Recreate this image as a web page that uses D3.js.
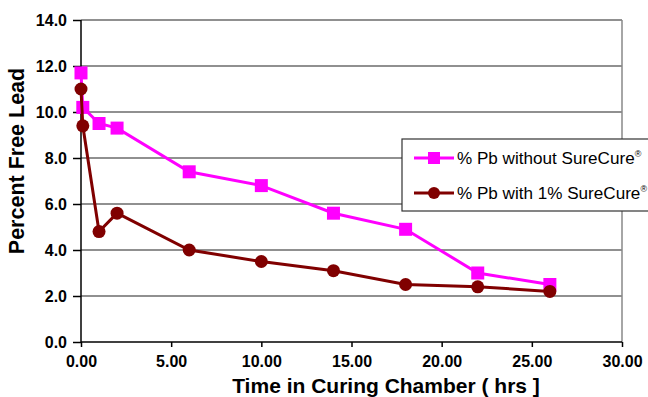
<!DOCTYPE html>
<html>
<head>
<meta charset="utf-8">
<script src="https://cdn.jsdelivr.net/npm/d3@7"></script>
<style>
  body { margin: 0; background: #fff; }
  svg { display: block; font-family: 'Liberation Sans', Arial, sans-serif; }
  .tick text { font-weight: bold; font-size: 16px; fill: #000; }
</style>
</head>
<body>
<div id="plot"></div>
<script>
// time in curing chamber (hrs)
var hours = [0, 0.1, 1, 2, 6, 10, 14, 18, 22, 26];
// % free lead, without SureCure
var pbWithout = [11.7, 10.2, 9.5, 9.3, 7.4, 6.8, 5.6, 4.9, 3.0, 2.5];
// % free lead, with 1% SureCure
var pbWith = [11.0, 9.4, 4.8, 5.6, 4.0, 3.5, 3.1, 2.5, 2.4, 2.2];

var xTicks = [0, 5, 10, 15, 20, 25, 30];
var yTicks = [0, 2, 4, 6, 8, 10, 12, 14];

var seriesNames = ['% Pb without SureCure', '% Pb with 1% SureCure'];

var W = 648, H = 397;
var m = { top: 20, right: 26, bottom: 55, left: 81 };
var w = W - m.left - m.right;
var h = H - m.top - m.bottom;

var svg = d3.select('#plot').append('svg')
  .attr('width', W)
  .attr('height', H);

var g = svg.append('g')
  .attr('transform', 'translate(' + m.left + ',' + m.top + ')');

var x = d3.scaleLinear().domain([0, 30]).range([0, w]);
var y = d3.scaleLinear().domain([0, 14]).range([h, 0]);

// gridlines
g.append('g').selectAll('line.grid')
  .data(yTicks.filter(function(d) { return d > 0; }))
  .enter().append('line')
    .attr('x1', 0).attr('x2', w)
    .attr('y1', function(d) { return y(d); })
    .attr('y2', function(d) { return y(d); })
    .attr('stroke', '#222')
    .attr('stroke-width', 1.2);

// right border of plot area
g.append('line')
  .attr('x1', w).attr('x2', w)
  .attr('y1', 0).attr('y2', h)
  .attr('stroke', '#888')
  .attr('stroke-width', 1.5);

var yaxis = d3.axisLeft(y).tickValues(yTicks).tickFormat(d3.format('.1f')).tickSize(8).tickPadding(6);
var xaxis = d3.axisBottom(x).tickValues(xTicks).tickFormat(d3.format('.2f')).tickSize(5).tickPadding(9);

g.append('g').attr('class', 'yaxis').call(yaxis);
g.append('g').attr('class', 'xaxis')
  .attr('transform', 'translate(0,' + h + ')')
  .call(xaxis);

g.selectAll('.domain, .tick line').attr('stroke', '#000').attr('stroke-width', 1.5);
g.select('.yaxis .domain').attr('d', 'M0,' + h + 'V0');
g.select('.xaxis .domain').attr('d', 'M0,0H' + w);

// series
var colors = ['#ff00ff', '#800000'];
var series = [pbWithout, pbWith];

var line = d3.line()
  .x(function(d) { return x(d[0]); })
  .y(function(d) { return y(d[1]); });

series.forEach(function(vals, k) {
  var pts = hours.map(function(t, i) { return [t, vals[i]]; });
  g.append('path')
    .datum(pts)
    .attr('fill', 'none')
    .attr('stroke', colors[k])
    .attr('stroke-width', 3)
    .attr('d', line);
  if (k == 0) {
    g.selectAll('rect.s0').data(pts).enter().append('rect')
      .attr('class', 's0')
      .attr('x', function(d) { return x(d[0]) - 6.5; })
      .attr('y', function(d) { return y(d[1]) - 6.5; })
      .attr('width', 13).attr('height', 13)
      .attr('fill', colors[k]);
  } else {
    g.selectAll('circle.s1').data(pts).enter().append('circle')
      .attr('class', 's1')
      .attr('cx', function(d) { return x(d[0]); })
      .attr('cy', function(d) { return y(d[1]); })
      .attr('r', 6.5)
      .attr('fill', colors[k]);
  }
});

// axis titles
svg.append('text')
  .attr('x', 386).attr('y', 393)
  .attr('text-anchor', 'middle')
  .attr('font-weight', 'bold')
  .attr('font-size', 21)
  .text('Time in Curing Chamber ( hrs ]');

svg.append('text')
  .attr('transform', 'translate(24,161) rotate(-90)')
  .attr('text-anchor', 'middle')
  .attr('font-weight', 'bold')
  .attr('font-size', 21.5)
  .text('Percent Free Lead');

// legend
var lg = svg.append('g').attr('transform', 'translate(402,139)');
lg.append('rect')
  .attr('x', 0).attr('y', 0)
  .attr('width', 260).attr('height', 72)
  .attr('fill', '#fff')
  .attr('stroke', '#333')
  .attr('stroke-width', 1.2);

seriesNames.forEach(function(name, k) {
  var ly = 19 + k * 35;
  lg.append('line')
    .attr('x1', 12).attr('x2', 52)
    .attr('y1', ly).attr('y2', ly)
    .attr('stroke', colors[k])
    .attr('stroke-width', 3);
  if (k == 0) {
    lg.append('rect')
      .attr('x', 26).attr('y', ly - 6)
      .attr('width', 12).attr('height', 12)
      .attr('fill', colors[k]);
  } else {
    lg.append('circle')
      .attr('cx', 32).attr('cy', ly)
      .attr('r', 6)
      .attr('fill', colors[k]);
  }
  var t = lg.append('text')
    .attr('x', 55).attr('y', ly + 6)
    .attr('font-size', 17.1)
    .attr('fill', '#000')
    .text(name);
  t.append('tspan')
    .attr('dy', -7)
    .attr('font-size', 9)
    .text('\u00ae');
});
</script>
</body>
</html>
